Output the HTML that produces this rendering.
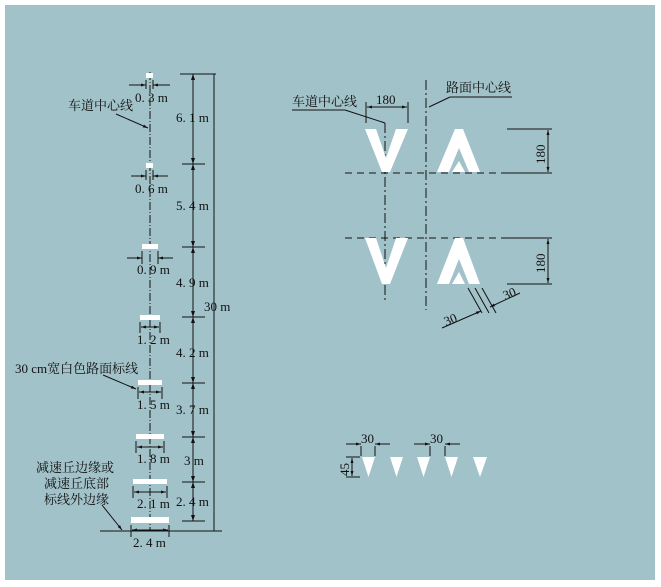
<!DOCTYPE html>
<html><head><meta charset="utf-8"><style>
html,body{margin:0;padding:0;background:#fff;}
svg{display:block;}
text{font-family:"Liberation Serif","Noto Serif CJK SC",serif;fill:#111;}
.cn{font-family:"Liberation Serif","Noto Serif CJK SC",serif;}
</style></head><body>
<svg width="661" height="587" viewBox="0 0 661 587" xmlns="http://www.w3.org/2000/svg">
<defs>
<marker id="a" viewBox="0 0 10 10" refX="10" refY="5" markerWidth="7" markerHeight="5" orient="auto-start-reverse"><path d="M0,2 L10,5 L0,8z" fill="#111"/></marker>
</defs>
<rect x="5" y="5" width="650" height="575" fill="#a2c2c9"/>
<g stroke="#111" stroke-width="1" fill="none">
<!-- left centerline -->
<line x1="150" y1="72" x2="150" y2="531" stroke-dasharray="8,2,1,2"/>
<!-- base line -->
<line x1="100" y1="531" x2="222" y2="531"/>
<!-- 30m -->
<line x1="180" y1="74" x2="216" y2="74"/>
<line x1="214" y1="74" x2="214" y2="531"/>
<!-- segment dim line -->
<line x1="193" y1="74" x2="193" y2="521"/>
<line x1="182" y1="164" x2="205" y2="164"/>
<line x1="182" y1="247" x2="205" y2="247"/>
<line x1="182" y1="317" x2="205" y2="317"/>
<line x1="182" y1="383" x2="205" y2="383"/>
<line x1="182" y1="437" x2="205" y2="437"/>
<line x1="182" y1="482" x2="205" y2="482"/>
<line x1="182" y1="521" x2="205" y2="521"/>
</g>
<g fill="#111">
<path d="M191,80 l2,-6 l2,6z"/><path d="M191,158 l2,6 l2,-6z"/><path d="M191,170 l2,-6 l2,6z"/>
<path d="M191,241 l2,6 l2,-6z"/><path d="M191,253 l2,-6 l2,6z"/><path d="M191,311 l2,6 l2,-6z"/>
<path d="M191,323 l2,-6 l2,6z"/><path d="M191,377 l2,6 l2,-6z"/><path d="M191,389 l2,-6 l2,6z"/>
<path d="M191,431 l2,6 l2,-6z"/><path d="M191,443 l2,-6 l2,6z"/><path d="M191,476 l2,6 l2,-6z"/>
<path d="M191,488 l2,-6 l2,6z"/><path d="M191,515 l2,6 l2,-6z"/>
</g>
<!-- bars -->
<g fill="#fff">
<rect x="146" y="73" width="7" height="5"/>
<rect x="146" y="163" width="7" height="5"/>
<rect x="142" y="244" width="16" height="5"/>
<rect x="140" y="315" width="20" height="5"/>
<rect x="138" y="380" width="24" height="5"/>
<rect x="136" y="434" width="28" height="5"/>
<rect x="133" y="479" width="34" height="5"/>
<rect x="131" y="517" width="38" height="6"/>
</g>
<!-- width dims -->
<g stroke="#111" stroke-width="1" fill="none">
<line x1="146" y1="80" x2="146" y2="89"/><line x1="153" y1="80" x2="153" y2="89"/>
<line x1="129" y1="85" x2="146" y2="85" marker-end="url(#a)"/><line x1="170" y1="85" x2="153" y2="85" marker-end="url(#a)"/>
<line x1="146" y1="170" x2="146" y2="180"/><line x1="153" y1="170" x2="153" y2="180"/>
<line x1="131" y1="176" x2="146" y2="176" marker-end="url(#a)"/><line x1="168" y1="176" x2="153" y2="176" marker-end="url(#a)"/>
<line x1="142" y1="251" x2="142" y2="264"/><line x1="158" y1="251" x2="158" y2="264"/>
<line x1="127" y1="258" x2="142" y2="258" marker-end="url(#a)"/><line x1="173" y1="258" x2="158" y2="258" marker-end="url(#a)"/>
<line x1="140" y1="322" x2="140" y2="333"/><line x1="160" y1="322" x2="160" y2="333"/>
<line x1="141" y1="327" x2="159" y2="327" marker-start="url(#a)" marker-end="url(#a)"/>
<line x1="138" y1="387" x2="138" y2="399"/><line x1="162" y1="387" x2="162" y2="399"/>
<line x1="139" y1="392" x2="161" y2="392" marker-start="url(#a)" marker-end="url(#a)"/>
<line x1="136" y1="441" x2="136" y2="453"/><line x1="164" y1="441" x2="164" y2="453"/>
<line x1="137" y1="447" x2="163" y2="447" marker-start="url(#a)" marker-end="url(#a)"/>
<line x1="133" y1="486" x2="133" y2="498"/><line x1="167" y1="486" x2="167" y2="498"/>
<line x1="134" y1="492" x2="166" y2="492" marker-start="url(#a)" marker-end="url(#a)"/>
<line x1="131" y1="525" x2="131" y2="537"/><line x1="169" y1="525" x2="169" y2="537"/>
<line x1="132" y1="530" x2="168" y2="530" marker-start="url(#a)" marker-end="url(#a)"/>
<!-- leaders -->
<line x1="116" y1="114" x2="148" y2="128" marker-end="url(#a)"/>
<line x1="103" y1="375" x2="136" y2="389" marker-end="url(#a)"/>
<line x1="102" y1="505" x2="122" y2="530" marker-end="url(#a)"/>
</g>
<g font-size="13">
<text x="135" y="102">0. 3 m</text>
<text x="135" y="193">0. 6 m</text>
<text x="137" y="274">0. 9 m</text>
<text x="137" y="344">1. 2 m</text>
<text x="137" y="409">1. 5 m</text>
<text x="137" y="463">1. 8 m</text>
<text x="137" y="508">2. 1 m</text>
<text x="133" y="547">2. 4 m</text>
<text x="176" y="122">6. 1 m</text>
<text x="176" y="210">5. 4 m</text>
<text x="176" y="287">4. 9 m</text>
<text x="176" y="357">4. 2 m</text>
<text x="176" y="414">3. 7 m</text>
<text x="184" y="465">3 m</text>
<text x="176" y="506">2. 4 m</text>
<text x="204" y="311">30 m</text>
<text x="68" y="110" class="cn">车道中心线</text>
<text x="15" y="373" class="cn">30  cm宽白色路面标线</text>
<text x="36" y="472" class="cn">减速丘边缘或</text>
<text x="44" y="488" class="cn">减速丘底部</text>
<text x="44" y="504" class="cn">标线外边缘</text>
</g>

<!-- RIGHT -->
<g stroke="#111" stroke-width="1" fill="none">
<line x1="385" y1="123" x2="385" y2="302" stroke-dasharray="10,3,2,3"/>
<line x1="426" y1="80" x2="426" y2="310" stroke-dasharray="10,3,2,3"/>
<line x1="345" y1="173" x2="520" y2="173" stroke-dasharray="7,5"/>
<line x1="345" y1="238" x2="520" y2="238" stroke-dasharray="7,5"/>
<line x1="507" y1="129" x2="552" y2="129"/><line x1="507" y1="173" x2="552" y2="173"/>
<line x1="548" y1="130" x2="548" y2="172" marker-start="url(#a)" marker-end="url(#a)"/>
<line x1="507" y1="238" x2="552" y2="238"/><line x1="507" y1="284" x2="552" y2="284"/>
<line x1="548" y1="239" x2="548" y2="283" marker-start="url(#a)" marker-end="url(#a)"/>
<line x1="366" y1="102" x2="366" y2="123"/><line x1="408" y1="102" x2="408" y2="123"/>
<line x1="367" y1="107" x2="407" y2="107" marker-start="url(#a)" marker-end="url(#a)"/>
<line x1="292" y1="110" x2="345" y2="110"/><line x1="345" y1="110" x2="385" y2="123"/>
<line x1="429" y1="107" x2="450" y2="97"/><line x1="450" y1="97" x2="512" y2="97"/>
<!-- 30 diagonal dims -->
<line x1="468" y1="288" x2="482" y2="313"/><line x1="475" y1="288" x2="489" y2="313"/><line x1="482" y1="288" x2="496" y2="313"/>
<line x1="442" y1="328" x2="481" y2="311" marker-end="url(#a)"/>
<line x1="520" y1="293" x2="490" y2="307" marker-end="url(#a)"/>
<!-- bottom dims -->
<line x1="361" y1="446" x2="361" y2="456"/><line x1="375" y1="446" x2="375" y2="456"/>
<line x1="346" y1="444" x2="361" y2="444" marker-end="url(#a)"/><line x1="390" y1="444" x2="375" y2="444" marker-end="url(#a)"/>
<line x1="430" y1="446" x2="430" y2="456"/><line x1="445" y1="446" x2="445" y2="456"/>
<line x1="414" y1="444" x2="430" y2="444" marker-end="url(#a)"/><line x1="460" y1="444" x2="445" y2="444" marker-end="url(#a)"/>
<line x1="346" y1="457" x2="360" y2="457"/><line x1="346" y1="477" x2="360" y2="477"/>
<line x1="352" y1="458" x2="352" y2="476" marker-start="url(#a)" marker-end="url(#a)"/>
</g>
<g fill="#fff">
<path d="M365,129 L376,129 L386,158 L396,129 L408,129 L390,172 L382,172z"/>
<path d="M365,238 L376,238 L386,268 L396,238 L408,238 L390,284 L382,284z"/>
<path d="M437,172 L455,129 L463,129 L480,172 L469,172 L459,148 L449,172z"/>
<path d="M452,172 L459,161 L465,172z"/>
<path d="M437,284 L455,238 L463,238 L480,284 L469,284 L459,259 L449,284z"/>
<path d="M452,284 L459,272 L465,284z"/>
<path d="M362,457 L375,457 L368.5,477z"/>
<path d="M390,457 L403,457 L396.5,477z"/>
<path d="M417,457 L430,457 L423.5,477z"/>
<path d="M445,457 L458,457 L451.5,477z"/>
<path d="M473,457 L487,457 L480,477z"/>
</g>
<g font-size="13">
<text x="376" y="104">180</text>
<text x="292" y="106" class="cn">车道中心线</text>
<text x="446" y="92" class="cn">路面中心线</text>
<text transform="translate(545,164) rotate(-90)">180</text>
<text transform="translate(545,273) rotate(-90)">180</text>
<text transform="translate(446,326) rotate(-22)">30</text>
<text transform="translate(505,300) rotate(-22)">30</text>
<text x="361" y="443">30</text>
<text x="430" y="443">30</text>
<text transform="translate(349,476) rotate(-90)">45</text>
</g>
</svg>
</body></html>
